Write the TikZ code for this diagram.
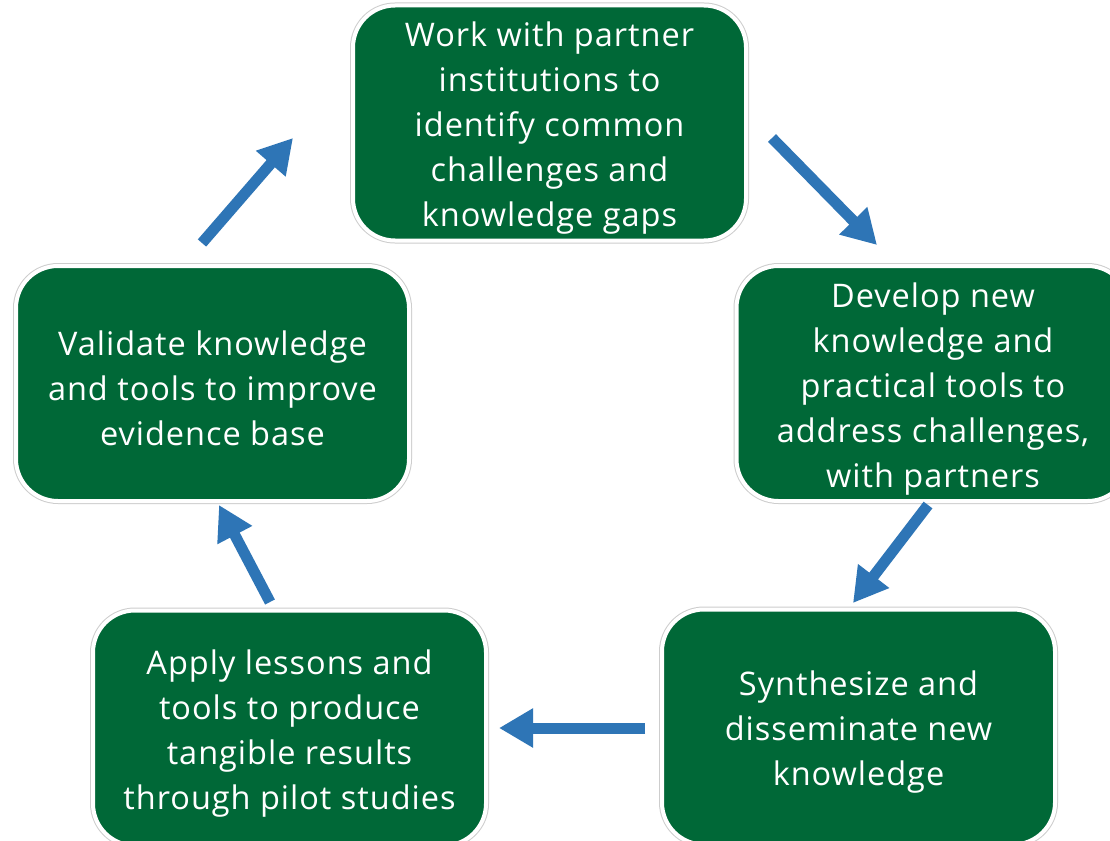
\documentclass[tikz,border=0pt]{standalone}
\usepackage{fontspec}
\setmainfont{Open Sans}[LetterSpace=3]
\usetikzlibrary{arrows.meta}
\definecolor{boxgreen}{RGB}{0,104,55}
\definecolor{arrowblue}{RGB}{46,117,182}
\definecolor{rimgray}{RGB}{205,205,205}
\newcommand{\topstrut}{\rule{0pt}{35pt}}
\tikzset{
  stepbox/.style={rectangle, rounded corners=42pt, fill=boxgreen, draw=white, line width=4pt,
    preaction={draw=rimgray, line width=6pt},
    minimum width=393pt, minimum height=235pt, inner sep=0pt,
    text=white, align=center, font=\fontsize{32.5}{45}\selectfont},
  flow/.style={draw=arrowblue, line width=11pt, -{Triangle[length=34pt,width=37pt]}}
}
\begin{document}
\begin{tikzpicture}[x=1pt,y=-1pt]
\useasboundingbox (0,0) rectangle (1110,840);
\clip (0,0) rectangle (1110,840);
\fill[white] (0,0) rectangle (1110,840);
\node[stepbox] (work) at (549.5,123) {\topstrut Work with partner\\institutions to\\identify common\\challenges and\\knowledge gaps};
\node[stepbox] (develop) at (933,383.5) {\topstrut Develop new\\knowledge and\\practical tools to\\address challenges,\\with partners};
\node[stepbox] (validate) at (212.5,383.5) {\topstrut Validate knowledge\\and tools to improve\\evidence base};
\node[stepbox] (apply) at (289.5,728) {\topstrut Apply lessons and\\tools to produce\\tangible results\\through pilot studies};
\node[stepbox] (synth) at (858.5,727) {\topstrut Synthesize and\\disseminate new\\knowledge};
\coordinate (a1s) at (202,243); \coordinate (a1e) at (293,138);
\coordinate (a2s) at (772,138); \coordinate (a2e) at (877,245);
\coordinate (a3s) at (928,505); \coordinate (a3e) at (853,603);
\coordinate (a4s) at (645,728); \coordinate (a4e) at (499,728);
\coordinate (a5s) at (270,602); \coordinate (a5e) at (219,505);
\draw[flow] (a1s) -- (a1e);
\draw[flow] (a2s) -- (a2e);
\draw[flow] (a3s) -- (a3e);
\draw[flow] (a4s) -- (a4e);
\draw[flow] (a5s) -- (a5e);
\end{tikzpicture}
\end{document}
